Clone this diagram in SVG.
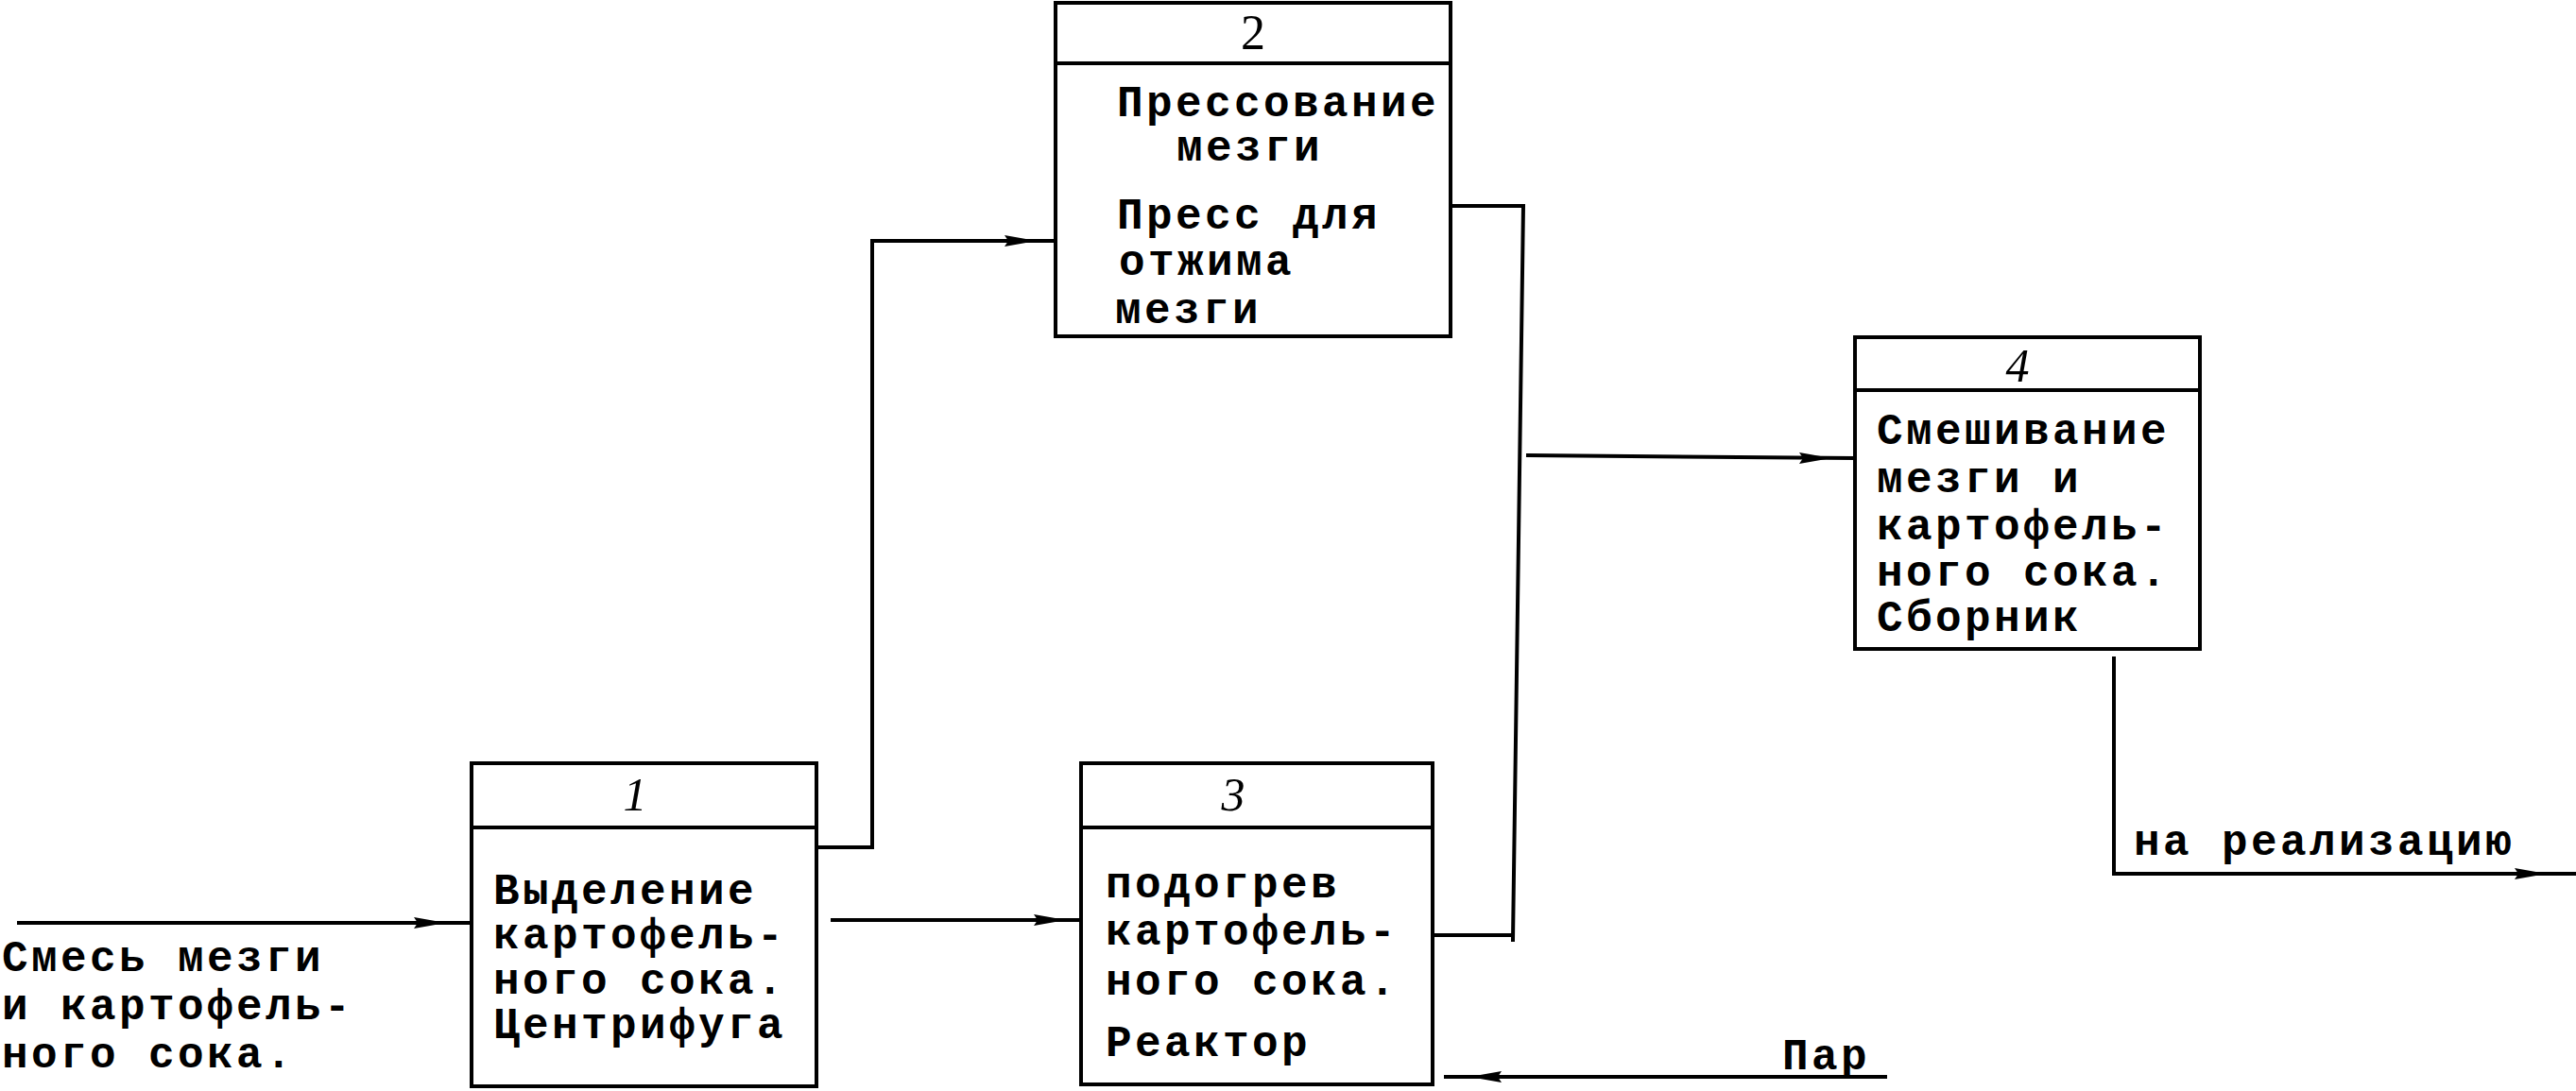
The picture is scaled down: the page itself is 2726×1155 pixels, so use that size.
<svg xmlns="http://www.w3.org/2000/svg" xmlns:xlink="http://www.w3.org/1999/xlink" width="2726" height="1155" viewBox="0 0 2726 1155">
<style>
.box{fill:none;stroke:#000;stroke-width:4}
.ln{fill:none;stroke:#000;stroke-width:4;stroke-linecap:square}
.t{font-family:"Liberation Mono","DejaVu Sans Mono",monospace;font-size:46px;letter-spacing:3.4px;font-weight:bold;fill:#000}
.n{font-family:"Liberation Serif","DejaVu Serif",serif;font-size:50px;font-style:italic;fill:#000;text-anchor:middle}
.n2{font-family:"Liberation Serif","DejaVu Serif",serif;font-size:52px;fill:#000;text-anchor:middle}
</style>
<defs>
<path id="ah" d="M0 0 L-34 -6 L-30 0 L-34 6 Z" fill="#000"/>
</defs>
<rect width="2726" height="1155" fill="#fff"/>
<g id="connectors">
<path class="ln" d="M20 977 H499"/>
<use xlink:href="#ah" transform="translate(472,977)"/>
<path class="ln" d="M864 897 H923 V255 H1117"/>
<use xlink:href="#ah" transform="translate(1097,255)"/>
<path class="ln" d="M881 974 H1144"/>
<use xlink:href="#ah" transform="translate(1128,974)"/>
<path class="ln" d="M1535 218 H1612 L1601 995"/>
<path class="ln" d="M1516 990 H1601"/>
<path class="ln" d="M1617 482 L1961 485"/>
<use xlink:href="#ah" transform="translate(1938,485)"/>
<path class="ln" d="M2237 697 V925 H2726"/>
<use xlink:href="#ah" transform="translate(2695,925)"/>
<path class="ln" d="M1995 1140 H1530"/>
<use xlink:href="#ah" transform="translate(1555,1140) rotate(180)"/>
</g>
<g id="input-label">
<text class="t" x="2" y="1028">Смесь мезги</text>
<text class="t" x="2" y="1079">и картофель-</text>
<text class="t" x="2" y="1130">ного сока.</text>
</g>
<g id="node1">
<rect class="box" x="499" y="808" width="365" height="342"/>
<line class="ln" x1="499" y1="876" x2="864" y2="876"/>
<text class="n" x="672" y="858">1</text>
<text class="t" x="522" y="957">Выделение</text>
<text class="t" x="522" y="1004">картофель-</text>
<text class="t" x="522" y="1052">ного сока.</text>
<text class="t" x="522" y="1099">Центрифуга</text>
</g>
<g id="node2">
<rect class="box" x="1117" y="3" width="418" height="353"/>
<line class="ln" x1="1117" y1="67" x2="1535" y2="67"/>
<text class="n2" x="1326" y="52">2</text>
<text class="t" x="1182" y="123">Прессование</text>
<text class="t" x="1245" y="170">мезги</text>
<text class="t" x="1182" y="242">Пресс для</text>
<text class="t" x="1184" y="291">отжима</text>
<text class="t" x="1180" y="342">мезги</text>
</g>
<g id="node3">
<rect class="box" x="1144" y="808" width="372" height="340"/>
<line class="ln" x1="1144" y1="876" x2="1516" y2="876"/>
<text class="n" x="1305" y="858">3</text>
<text class="t" x="1170" y="950">подогрев</text>
<text class="t" x="1170" y="1000">картофель-</text>
<text class="t" x="1170" y="1053">ного сока.</text>
<text class="t" x="1170" y="1118">Реактор</text>
</g>
<g id="node4">
<rect class="box" x="1963" y="357" width="365" height="330"/>
<line class="ln" x1="1963" y1="413" x2="2328" y2="413"/>
<text class="n" x="2135" y="404">4</text>
<text class="t" x="1986" y="470">Смешивание</text>
<text class="t" x="1986" y="521">мезги и</text>
<text class="t" x="1986" y="571">картофель-</text>
<text class="t" x="1986" y="620">ного сока.</text>
<text class="t" x="1986" y="668">Сборник</text>
</g>
<g id="output-label">
<text class="t" x="2258" y="905">на реализацию</text>
</g>
<g id="steam-label">
<text class="t" x="1886" y="1132">Пар</text>
</g>
</svg>
